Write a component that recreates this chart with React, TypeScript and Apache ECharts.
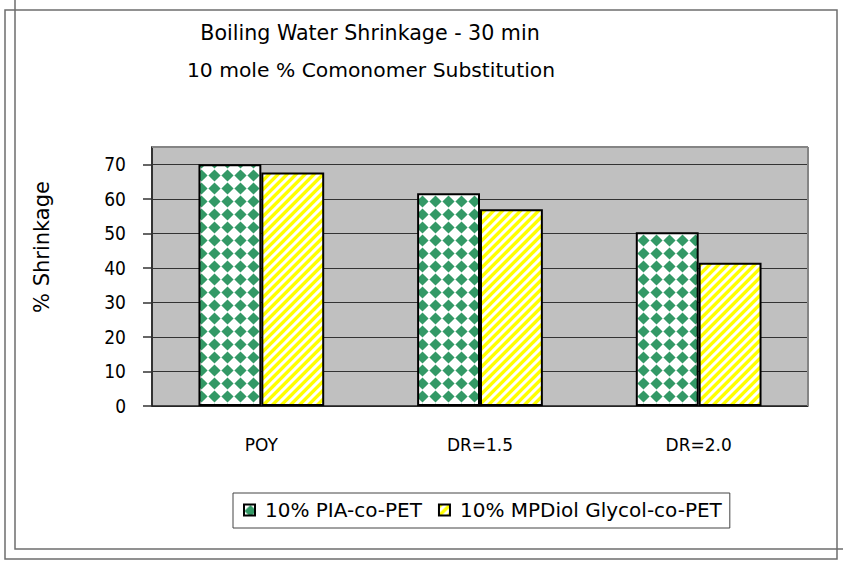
import React, { useEffect, useRef } from 'react';
import * as echarts from 'echarts';

const categories = ['POY', 'DR=1.5', 'DR=2.0'];
const seriesNames = ['10% PIA-co-PET', '10% MPDiol Glycol-co-PET'];
const piaValues = [70, 61.6, 50.3];
const mpdiolValues = [67.6, 57, 41.5];
const titleLines = ['Boiling Water Shrinkage - 30 min', '10 mole % Comonomer Substitution'];
const yAxisName = '% Shrinkage';

function diamondPattern() {
  const s = 13;
  const c = document.createElement('canvas');
  c.width = s;
  c.height = s;
  const g = c.getContext('2d')!;
  g.fillStyle = '#ffffff';
  g.fillRect(0, 0, s, s);
  g.fillStyle = '#339966';
  g.beginPath();
  g.moveTo(6.5, 0.4);
  g.lineTo(12.6, 6.5);
  g.lineTo(6.5, 12.6);
  g.lineTo(0.4, 6.5);
  g.closePath();
  g.fill();
  return { image: c, repeat: 'repeat', imageWidth: s, imageHeight: s };
}

function stripePattern() {
  const s = 9;
  const w = 4.8;
  const c = document.createElement('canvas');
  c.width = s;
  c.height = s;
  const g = c.getContext('2d')!;
  g.fillStyle = '#ffffff';
  g.fillRect(0, 0, s, s);
  g.fillStyle = '#ffff00';
  for (let k = -1; k <= 2; k++) {
    const cc = k * s;
    g.beginPath();
    g.moveTo(cc, 0);
    g.lineTo(cc + w, 0);
    g.lineTo(cc + w - s, s);
    g.lineTo(cc - s, s);
    g.closePath();
    g.fill();
  }
  return { image: c, repeat: 'repeat', imageWidth: s, imageHeight: s };
}

export default function App() {
  const ref = useRef<HTMLDivElement>(null);
  useEffect(() => {
    if (!ref.current) return;
    const chart = echarts.init(ref.current, null, { renderer: 'svg' });
    const gl = 152, gr = 808, gt = 147, gb = 406;
    const condensed = 'DejaVu Sans Condensed';
    const option: any = {
      animation: false,
      backgroundColor: '#ffffff',
      grid: {
        left: gl,
        right: 843 - gr,
        top: gt,
        bottom: 561 - gb,
        show: true,
        backgroundColor: '#c0c0c0',
        borderWidth: 0,
      },
      legend: {
        data: seriesNames,
        left: 233,
        top: 493,
        icon: 'rect',
        itemWidth: 11,
        itemHeight: 11,
        itemGap: 16,
        padding: [7, 8, 8, 10],
        borderColor: '#444',
        borderWidth: 1,
        textStyle: { fontFamily: 'DejaVu Sans', fontSize: 20, color: '#000', padding: [0, 0, 0, 5] },
      },
      xAxis: {
        type: 'category',
        data: categories,
        axisLine: { show: true, lineStyle: { color: '#222', width: 1.5 } },
        axisTick: { show: false },
        axisLabel: { margin: 30, fontFamily: 'DejaVu Sans', fontSize: 17, color: '#000' },
      },
      yAxis: {
        type: 'value',
        min: 0,
        max: 75,
        interval: 10,
        axisLine: { show: true, lineStyle: { color: '#333', width: 2 } },
        axisTick: { show: true, length: 9, lineStyle: { color: '#333', width: 1.5 } },
        axisLabel: {
          margin: 26,
          showMaxLabel: false,
          fontFamily: condensed,
          fontSize: 19,
          color: '#000',
        },
        splitLine: { show: true, lineStyle: { color: '#333', width: 1 } },
      },
      series: [
        {
          name: seriesNames[0],
          type: 'bar',
          data: piaValues,
          barGap: '0%',
          barCategoryGap: '42.5%',
          itemStyle: { color: diamondPattern(), borderColor: '#000', borderWidth: 2 },
        },
        {
          name: seriesNames[1],
          type: 'bar',
          data: mpdiolValues,
          barGap: '0%',
          barCategoryGap: '42.5%',
          itemStyle: { color: stripePattern(), borderColor: '#000', borderWidth: 2 },
        },
      ],
      graphic: [
        {
          type: 'rect',
          z: 0,
          shape: { x: 5, y: 10, width: 832, height: 549 },
          style: { fill: 'none', stroke: '#6e6e6e', lineWidth: 1.5 },
        },
        {
          type: 'rect',
          z: 0,
          shape: { x: 15, y: -10, width: 850, height: 559 },
          style: { fill: 'none', stroke: '#6e6e6e', lineWidth: 1.5 },
        },
        {
          type: 'line',
          z: 50,
          shape: { x1: gl, y1: gt, x2: gr, y2: gt },
          style: { stroke: '#858585', lineWidth: 2 },
        },
        {
          type: 'line',
          z: 50,
          shape: { x1: gr, y1: gt, x2: gr, y2: gb },
          style: { stroke: '#858585', lineWidth: 2 },
        },
        {
          type: 'text',
          x: 370,
          y: 33,
          style: {
            text: titleLines[0],
            align: 'center',
            verticalAlign: 'middle',
            fontFamily: 'DejaVu Sans',
            fontSize: 20.6,
            fill: '#000',
          },
        },
        {
          type: 'text',
          x: 371,
          y: 70,
          style: {
            text: titleLines[1],
            align: 'center',
            verticalAlign: 'middle',
            fontFamily: 'DejaVu Sans',
            fontSize: 20.3,
            fill: '#000',
          },
        },
        {
          type: 'text',
          x: 42,
          y: 247,
          rotation: Math.PI / 2,
          style: {
            text: yAxisName,
            align: 'center',
            verticalAlign: 'middle',
            fontFamily: 'DejaVu Sans',
            fontSize: 21,
            fill: '#000',
          },
        },
      ],
    };
    chart.setOption(option);
    return () => chart.dispose();
  }, []);
  return (
    <div
      ref={ref}
      style={{ position: 'fixed', left: 0, top: 0, width: 843, height: 561, background: '#fff' }}
    />
  );
}
